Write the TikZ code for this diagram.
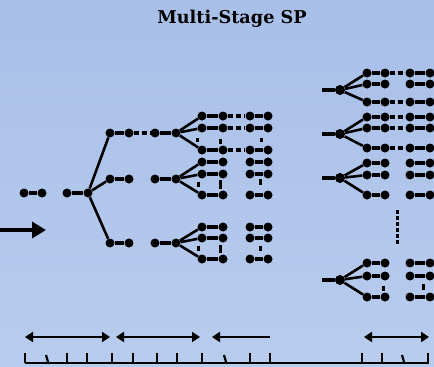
\documentclass[tikz,border=0pt]{standalone}
\usepackage{fontspec}
\newfontfamily\titlefont{DejaVu Serif}
\usetikzlibrary{arrows.meta}
\definecolor{skytop}{RGB}{168,191,232}
\definecolor{skybot}{RGB}{184,204,237}
\tikzset{
  dot/.style={circle,fill=black,inner sep=0pt,minimum size=9pt},
  bar/.style={line width=3.5pt},
  branch/.style={line width=2.6pt},
  dashlink/.style={line width=3.5pt,dash pattern=on 5pt off 3pt},
  gapmark/.style={line width=3pt,dash pattern=on 4pt off 2pt},
  tline/.style={line width=2.2pt},
  tarrow/.style={line width=2.2pt,{Triangle[length=8pt,width=10pt]}-{Triangle[length=8pt,width=10pt]}},
}
% a pair of dots joined by a bar: name, left x, right x, y
\newcommand\dumb[4]{%
  \node[dot] (#1-a) at (#2,#4) {};
  \node[dot] (#1-b) at (#3,#4) {};
  \draw[bar] (#1-a) -- (#1-b);}
\begin{document}
\begin{tikzpicture}[x=1pt,y=-1pt]
  \shade[top color=skytop,bottom color=skybot] (0,0) rectangle (434,367);
  \useasboundingbox (0,0) rectangle (434,367);

  \node[font=\titlefont\bfseries\fontsize{18}{18}\selectfont,scale=0.98] (title) at (232,19) {Multi-Stage SP};

  % stage 0 and the incoming arrow
  \dumb{s0}{24}{42}{193}
  \coordinate (inA) at (0,230);
  \coordinate (inB) at (46,230);
  \draw[line width=3.5pt,-{Triangle[length=14pt,width=16pt]}] (inA) -- (inB);

  % stage 1
  \dumb{s1}{67}{88}{193}
  \dumb{c1}{110}{129}{133}
  \dumb{c2}{110}{129}{179}
  \dumb{c3}{110}{129}{243}
  \foreach \c in {c1,c2,c3} \draw[branch] (s1-b) -- (\c-a);

  % stage 2 subtrees: group / root y / child rows
  \foreach \g/\r/\ya/\yb/\yc in {t/133/116/128/150, m/179/162/174/195, b/243/227/238/259} {
    \dumb{\g r}{155}{176}{\r}
    \dumb{\g 1}{202}{223}{\ya}
    \dumb{\g 2}{202}{223}{\yb}
    \dumb{\g 3}{202}{223}{\yc}
    \dumb{\g 1x}{250}{268}{\ya}
    \dumb{\g 2x}{250}{268}{\yb}
    \dumb{\g 3x}{250}{268}{\yc}
    \foreach \k in {1,2,3} \draw[branch] (\g r-b) -- (\g \k-a);
  }
  \draw[dashlink] (c1-b) -- (tr-a);
  \foreach \k in {1,2,3} \draw[dashlink] (t\k-b) -- (t\k x-a);

  % marks for omitted branches
  \foreach \x/\y/\h in {197/140/4, 220/141/5, 261/140/4,
                       198/184/5, 220/184/9, 260/182/6,
                       198/248/5, 220/249/8, 260/248/5} {
    \coordinate (gm1) at (\x,\y-\h/2);
    \coordinate (gm2) at (\x,\y+\h/2);
    \draw[line width=3pt] (gm1) -- (gm2);
  }

  % later stages on the right
  \foreach \g/\r/\ya/\yb/\yc in {p/90/73/84/102, q/134/117/128/148, u/178/163/175/195, v/280/263/276/297} {
    \coordinate (\g in) at (322,\r);
    \node[dot,minimum size=10pt] (\g r) at (340,\r) {};
    \draw[bar] (\g in) -- (\g r);
    \dumb{\g 1}{367}{385}{\ya}
    \dumb{\g 2}{367}{385}{\yb}
    \dumb{\g 3}{367}{385}{\yc}
    \dumb{\g 1x}{410}{430}{\ya}
    \dumb{\g 2x}{410}{430}{\yb}
    \dumb{\g 3x}{410}{430}{\yc}
    \foreach \k in {1,2,3} \draw[branch] (\g r) -- (\g \k-a);
  }
  \foreach \n in {p1,p3,q1,q2,q3} \draw[dashlink] (\n-b) -- (\n x-a);
  \foreach \x/\y/\h in {383/288/5, 423/287/6} {
    \coordinate (gm1) at (\x,\y-\h/2);
    \coordinate (gm2) at (\x,\y+\h/2);
    \draw[line width=3pt] (gm1) -- (gm2);
  }
  \coordinate (vdA) at (397,210);
  \coordinate (vdB) at (397,244);
  \draw[gapmark] (vdA) -- (vdB);

  % time line
  \coordinate (ta1) at (25,337);  \coordinate (tb1) at (110,337);
  \coordinate (ta2) at (116,337); \coordinate (tb2) at (200,337);
  \coordinate (ta3) at (212,337); \coordinate (tb3) at (270,337);
  \coordinate (ta4) at (364,337); \coordinate (tb4) at (429,337);
  \draw[tarrow] (ta1) -- (tb1);
  \draw[tarrow] (ta2) -- (tb2);
  \draw[tline,{Triangle[length=8pt,width=10pt]}-] (ta3) -- (tb3);
  \draw[tarrow] (ta4) -- (tb4);

  \coordinate (axL) at (25,363);
  \coordinate (axR) at (429,363);
  \draw[tline] (axL) -- (axR);
  \foreach \x in {25,67,87,112,133,157,177,202,250,270,362,382,428}
    \draw[tline] (\x,353) -- (\x,363);
  \foreach \x in {46,224,402}
    \draw[tline] (\x,355) -- (\x+2,362);
\end{tikzpicture}
\end{document}
